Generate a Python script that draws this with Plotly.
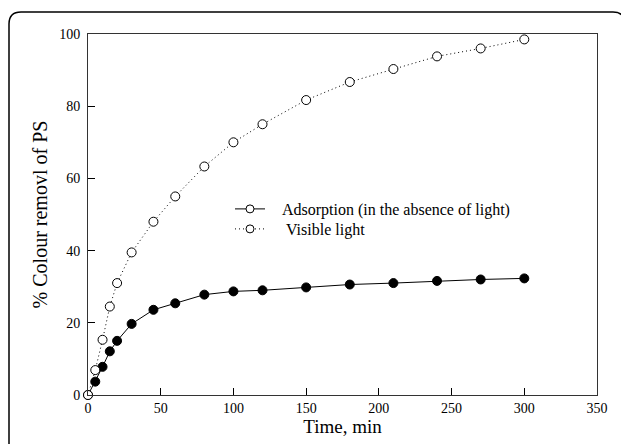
import plotly.graph_objects as go

time_min = [0, 5, 10, 15, 20, 30, 45, 60, 80, 100, 120, 150, 180, 210, 240, 270, 300]
adsorption = [0, 3.7, 7.8, 12.1, 15.0, 19.7, 23.6, 25.4, 27.8, 28.7, 29.0, 29.8, 30.6, 31.0, 31.6, 32.0, 32.3]
visible = [0, 6.9, 15.3, 24.5, 31.0, 39.5, 48.0, 55.0, 63.3, 70.0, 75.0, 81.7, 86.7, 90.3, 93.8, 96.0, 98.5]
x_ticks = [0, 50, 100, 150, 200, 250, 300, 350]
y_ticks = [0, 20, 40, 60, 80, 100]

FONT = "Liberation Serif"
OFF = 8  # page body margin
W, H = 629 - OFF, 444 - OFF
L, R, T, B = 88 - OFF, 32, 34 - OFF, 49
pw, ph = W - L - R, H - T - B
DOT = "1px,3px"
NB = "\u00a0"

fig = go.Figure()
fig.add_trace(go.Scatter(x=time_min, y=adsorption, mode="lines+markers", showlegend=False,
                         line=dict(color="black", width=1),
                         marker=dict(symbol="circle", size=9, color="black", line=dict(color="black", width=1)),
                         cliponaxis=False))
fig.add_trace(go.Scatter(x=time_min, y=visible, mode="lines+markers", showlegend=False,
                         line=dict(color="black", width=1, dash=DOT),
                         marker=dict(symbol="circle", size=9, color="white", line=dict(color="black", width=1)),
                         cliponaxis=False))
# legend entries (hollow markers, as in the original)
fig.add_trace(go.Scatter(x=[None], y=[None], mode="lines+markers", legend="legend",
                         name=NB * 3 + "Adsorption (in the absence of light)",
                         line=dict(color="black", width=1),
                         marker=dict(symbol="circle", size=8, color="white", line=dict(color="black", width=1))))
fig.add_trace(go.Scatter(x=[None], y=[None], mode="lines+markers", legend="legend2",
                         name=NB * 4 + "Visible light",
                         line=dict(color="black", width=1, dash=DOT),
                         marker=dict(symbol="circle", size=8, color="white", line=dict(color="black", width=1))))

def px_x(p):
    return (p - OFF - L) / pw

def px_y(p):
    return (H + OFF - B - p) / ph

x0, x1 = px_x(9), px_x(625)
y0, y1 = px_y(470), px_y(12)
rx, ry = 12 / pw, 12 / ph
path = (f"M {x0} {y0} L {x0} {y1 - ry} Q {x0} {y1} {x0 + rx} {y1} "
        f"L {x1 - rx} {y1} Q {x1} {y1} {x1} {y1 - ry} L {x1} {y0}")

leg_common = dict(xanchor="left", yanchor="top", bgcolor="rgba(0,0,0,0)",
                  font=dict(size=16, family=FONT), itemwidth=30)

fig.update_layout(
    width=W, height=H,
    margin=dict(l=L, r=R, t=T, b=B),
    paper_bgcolor="white", plot_bgcolor="white",
    font=dict(family=FONT, color="black", size=14),
    shapes=[dict(type="path", path=path, xref="paper", yref="paper",
                 line=dict(color="black", width=1.5), layer="below")],
    legend=dict(x=px_x(230), y=px_y(192), **leg_common),
    legend2=dict(x=px_x(230), y=px_y(212), **leg_common),
    xaxis=dict(range=[0, 350], tickvals=x_ticks, ticks="inside", ticklen=7, tickwidth=1,
               tickcolor="black", showline=True, linecolor="#333", linewidth=1, mirror=True,
               showgrid=False, zeroline=False,
               title=dict(text="Time, min", font=dict(size=19, family=FONT), standoff=3),
               tickfont=dict(size=14, family=FONT)),
    yaxis=dict(range=[0, 100], tickvals=y_ticks, ticks="inside", ticklen=7, tickwidth=1,
               tickcolor="black", showline=True, linecolor="#333", linewidth=1, mirror=True,
               showgrid=False, zeroline=False, ticklabelstandoff=4,
               title=dict(text="% Colour removl of PS", font=dict(size=20, family=FONT), standoff=6),
               tickfont=dict(size=14, family=FONT)),
)

fig.write_html("out.html")
